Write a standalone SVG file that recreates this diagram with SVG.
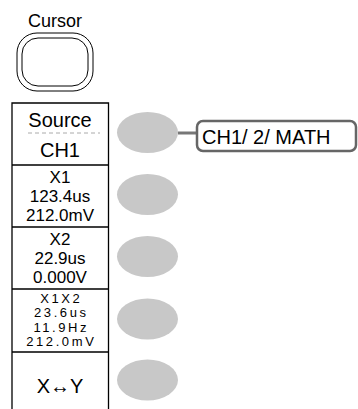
<svg xmlns="http://www.w3.org/2000/svg" width="358" height="409" viewBox="0 0 358 409">
<style>
text{font-family:"Liberation Sans",Arial,sans-serif;fill:#000;text-anchor:middle}
.l{font-size:20px}
.m{font-size:17px}
.s{font-size:13px;letter-spacing:2.6px}
.btn{fill:#c8c8c8;stroke:none}
.pl{stroke:#000;stroke-width:1.3;fill:none}
</style>
<rect width="358" height="409" fill="#fff"/>
<g id="cursor-key">
<text x="55" y="27" style="font-size:18px">Cursor</text>
<rect x="17" y="33" width="76" height="58" rx="20" ry="20" fill="none" stroke="#000" stroke-width="1"/>
<rect x="22" y="38" width="66" height="48" rx="16" ry="16" fill="none" stroke="#000" stroke-width="1"/>
</g>
<g id="panel">
<path class="pl" d="M12,409 V103 H108.5 V409 M12,165 H108.5 M12,227 H108.5 M12,289 H108.5 M12,352 H108.5"/>
</g>
<g id="source">
<text class="l" x="60" y="127">Source</text>
<line x1="28" y1="133" x2="100" y2="133" stroke="#aaa" stroke-width="1" stroke-dasharray="4 3"/>
<text class="l" x="60" y="157">CH1</text>
</g>
<g id="x1">
<text class="m" x="60" y="182.5">X1</text>
<text class="m" x="60" y="201.5">123.4us</text>
<text class="m" x="60" y="220.5">212.0mV</text>
</g>
<g id="x2">
<text class="m" x="60" y="244.5">X2</text>
<text class="m" x="60" y="263.5">22.9us</text>
<text class="m" x="60" y="282.5">0.000V</text>
</g>
<g id="x1x2">
<text class="s" x="61.3" y="302.5">X1X2</text>
<text class="s" x="61.3" y="317">23.6us</text>
<text class="s" x="61.3" y="331.5">11.9Hz</text>
<text class="s" x="61.3" y="346">212.0mV</text>
</g>
<g id="xy">
<text class="l" x="60" y="393">X↔Y</text>
</g>
<g id="softkeys">
<ellipse class="btn" cx="147.5" cy="132.5" rx="30.5" ry="20.5"/>
<ellipse class="btn" cx="147.5" cy="194.5" rx="30.5" ry="20.5"/>
<ellipse class="btn" cx="147.5" cy="256.5" rx="30.5" ry="20.5"/>
<ellipse class="btn" cx="147.5" cy="319" rx="30.5" ry="20.5"/>
<ellipse class="btn" cx="147.5" cy="380" rx="30.5" ry="20.5"/>
</g>
<g id="connectors">
<line x1="178" y1="133" x2="197" y2="133" stroke="#777" stroke-width="3"/>
</g>
<g id="source-options">
<rect x="197" y="121" width="159" height="30" rx="6" ry="6" fill="#fff" stroke="#666" stroke-width="2.5"/>
<text class="l" x="202" y="143.5" style="text-anchor:start">CH1/ 2/ MATH</text>
</g>
</svg>
